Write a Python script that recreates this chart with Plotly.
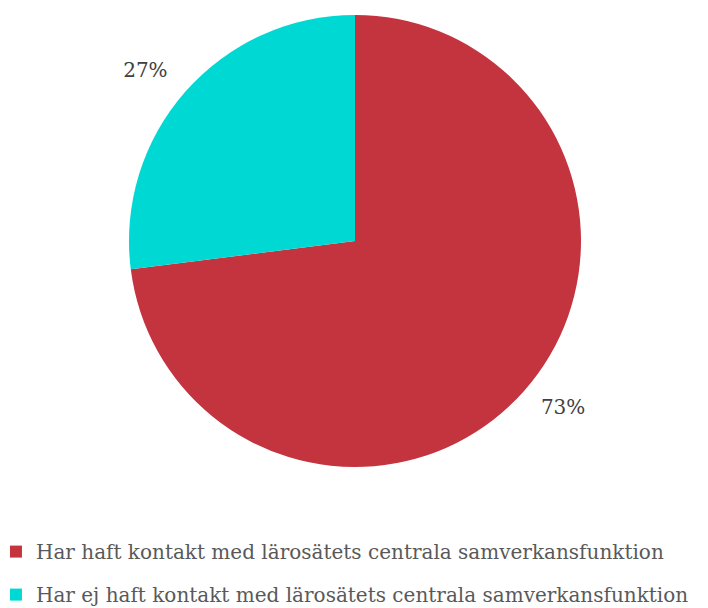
import plotly.graph_objects as go

labels = ["Har haft kontakt med lärosätets centrala samverkansfunktion",
          "Har ej haft kontakt med lärosätets centrala samverkansfunktion"]
values = [73, 27]
colors = ["#C4343F", "#00D8D4"]

W, H = 708, 608
cx, cy, r = 347, 233, 226

templates = [
    "<span style='font-size:10px'>\u00a0</span><br>\u00a0%{percent:.0%}",
    "%{percent:.0%}\u00a0<br><span style='font-size:6px'>\u00a0</span>",
]

fig = go.Figure()
fig.add_trace(go.Pie(
    labels=labels,
    values=values,
    marker=dict(colors=colors, line=dict(width=0)),
    sort=False,
    direction="clockwise",
    rotation=0,
    texttemplate=templates,
    textposition="outside",
    textfont=dict(family="DejaVu Serif", size=20, color="#404040"),
    domain=dict(x=[(cx - r) / W, (cx + r) / W], y=[(H - cy - r) / H, (H - cy + r) / H]),
    hoverinfo="label+percent",
    showlegend=False,
))

for i, (lab, col) in enumerate(zip(labels, colors)):
    fig.add_trace(go.Scatter(
        x=[None], y=[None], mode="markers", name=lab,
        marker=dict(symbol="square", size=12, color=col),
        legendgroup=f"g{i}", showlegend=True, hoverinfo="skip",
    ))

fig.update_layout(
    width=W, height=H,
    margin=dict(l=0, r=0, t=0, b=0, autoexpand=False),
    paper_bgcolor="white",
    plot_bgcolor="white",
    xaxis=dict(visible=False),
    yaxis=dict(visible=False),
    showlegend=True,
    legend=dict(
        x=-0.017, y=0.138, xanchor="left", yanchor="top",
        orientation="v",
        font=dict(family="DejaVu Serif", size=20, color="#595959"),
        traceorder="grouped",
        tracegroupgap=14,
        itemwidth=30,
    ),
)

fig.write_html("out.html")
